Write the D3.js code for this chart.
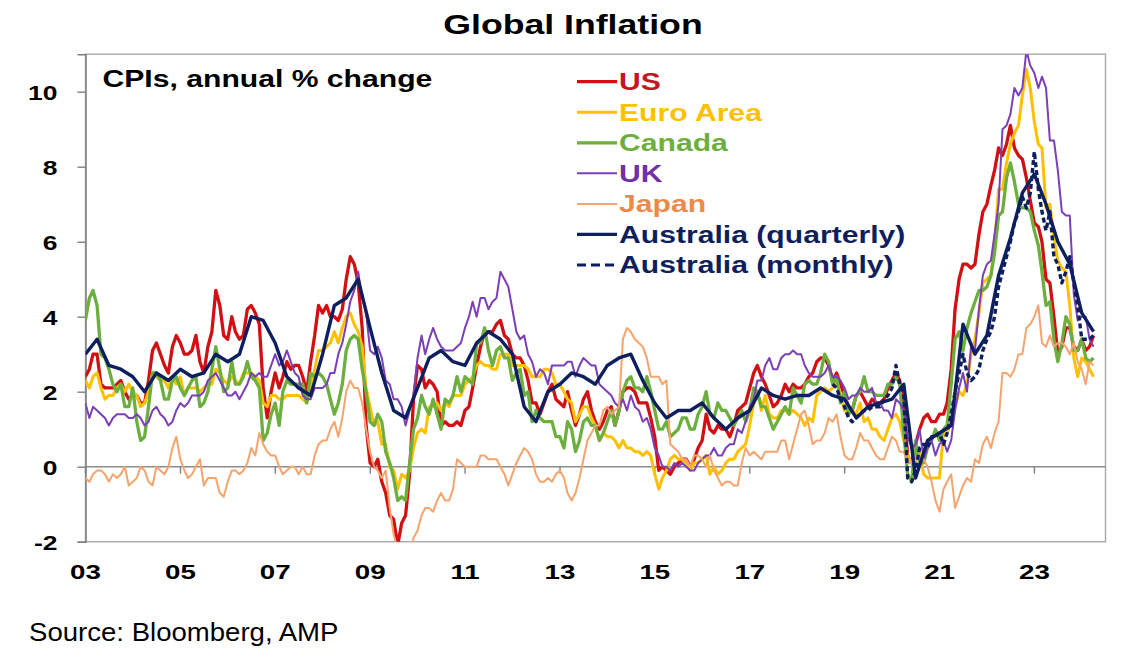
<!DOCTYPE html>
<html>
<head>
<meta charset="utf-8">
<script src="https://cdn.jsdelivr.net/npm/d3@7"></script>
<style>
  body { margin: 0; background: #fff; }
  text { font-family: "Liberation Sans", Arial, sans-serif; }
</style>
</head>
<body>
<svg id="chart" width="1143" height="671"></svg>
<script>

// monthly series run Dec 2002 .. Mar 2024 (annual % change)
var monthlyStart = [2002, 12];

var us = [2.4,
  2.6,3.0,3.0,2.2,2.1,2.1,2.1,2.2,2.3,2.0,1.8,1.9,
  1.9,1.7,1.7,2.3,3.1,3.3,3.0,2.7,2.5,3.2,3.5,3.3,
  3.0,3.0,3.1,3.5,2.8,2.5,3.2,3.6,4.7,4.3,3.5,3.4,
  4.0,3.6,3.4,3.5,4.2,4.3,4.1,3.8,2.1,1.3,2.0,2.5,
  2.1,2.4,2.8,2.6,2.7,2.7,2.4,2.0,2.8,3.5,4.3,4.1,
  4.3,4.0,4.0,3.9,4.2,5.0,5.6,5.4,4.9,3.7,1.1,0.1,
  0.0,0.2,-0.4,-0.7,-1.3,-1.4,-2.1,-1.5,-1.3,-0.2,1.8,2.7,
  2.6,2.1,2.3,2.2,2.0,1.1,1.2,1.1,1.1,1.2,1.1,1.5,
  1.6,2.1,2.7,3.2,3.6,3.6,3.6,3.8,3.9,3.5,3.4,3.0,
  2.9,2.9,2.7,2.3,1.7,1.7,1.4,1.7,2.0,2.2,1.8,1.7,
  1.6,2.0,1.5,1.1,1.4,1.8,2.0,1.5,1.2,1.0,1.2,1.5,
  1.6,1.1,1.5,2.0,2.1,2.1,2.0,1.7,1.7,1.7,1.3,0.8,
  -0.1,0.0,-0.1,-0.2,0.0,0.1,0.2,0.2,0.0,0.2,0.5,0.7,
  1.4,1.0,0.9,1.1,1.0,1.0,0.8,1.1,1.5,1.6,1.7,2.1,
  2.5,2.7,2.4,2.2,1.9,1.6,1.7,1.9,2.2,2.0,2.2,2.1,
  2.1,2.2,2.4,2.5,2.8,2.9,2.9,2.7,2.3,2.5,2.2,1.9,
  1.6,1.5,1.9,2.0,1.8,1.6,1.8,1.7,1.7,1.8,2.1,2.3,
  2.5,2.3,1.5,0.3,0.1,0.6,1.0,1.3,1.4,1.2,1.2,1.4,
  1.4,1.7,2.6,4.2,5.0,5.4,5.4,5.3,5.4,6.2,6.8,7.0,
  7.5,7.9,8.5,8.3,8.6,9.1,8.5,8.3,8.2,7.7,7.1,6.5,
  6.4,6.0,5.0,4.9,4.0,3.0,3.2,3.7,3.7,3.2,3.1,3.4,
  3.1,3.2,3.5];

var euroArea = [2.3,
  2.1,2.4,2.5,2.1,1.8,1.9,1.9,2.1,2.2,2.0,2.2,2.0,
  1.9,1.6,1.7,2.0,2.5,2.4,2.3,2.3,2.1,2.4,2.2,2.4,
  1.9,2.1,2.1,2.1,2.0,2.1,2.2,2.2,2.6,2.5,2.3,2.2,
  2.4,2.3,2.2,2.5,2.5,2.5,2.4,2.3,1.7,1.6,1.9,1.9,
  1.8,1.8,1.9,1.9,1.9,1.9,1.8,1.7,2.1,2.6,3.1,3.1,
  3.2,3.3,3.6,3.3,3.7,4.0,4.1,3.8,3.6,3.2,2.1,1.6,
  1.1,1.2,0.6,0.6,0.0,-0.1,-0.6,-0.2,-0.3,-0.1,0.5,0.9,
  1.0,0.9,1.6,1.6,1.7,1.5,1.7,1.6,1.9,1.9,1.9,2.2,
  2.3,2.4,2.7,2.8,2.7,2.7,2.6,2.6,3.0,3.0,3.0,2.7,
  2.7,2.7,2.7,2.6,2.4,2.4,2.4,2.6,2.6,2.5,2.2,2.2,
  2.0,1.8,1.7,1.2,1.4,1.6,1.6,1.3,1.1,0.7,0.9,0.8,
  0.8,0.7,0.5,0.7,0.5,0.5,0.4,0.4,0.3,0.4,0.3,-0.2,
  -0.6,-0.3,-0.1,0.2,0.3,0.2,0.2,0.1,-0.1,0.1,0.1,0.2,
  0.3,-0.2,0.0,-0.2,-0.1,0.1,0.2,0.2,0.4,0.5,0.6,1.1,
  1.7,2.0,1.5,1.9,1.4,1.3,1.3,1.5,1.5,1.4,1.5,1.4,
  1.3,1.1,1.3,1.2,1.9,2.0,2.1,2.0,2.1,2.3,1.9,1.5,
  1.4,1.5,1.4,1.7,1.2,1.3,1.0,1.0,0.8,0.7,1.0,1.3,
  1.4,1.2,0.7,0.3,0.1,0.3,0.4,-0.2,-0.3,-0.3,-0.3,-0.3,
  0.9,0.9,1.3,1.6,2.0,1.9,2.2,3.0,3.4,4.1,4.9,5.0,
  5.1,5.9,7.4,7.4,8.1,8.6,8.9,9.1,9.9,10.6,10.1,9.2,
  8.6,8.5,6.9,7.0,6.1,5.5,5.3,5.2,4.3,2.9,2.4,2.9,
  2.8,2.6,2.4];

var canada = [3.9,
  4.5,4.7,4.3,3.0,2.9,2.6,2.2,2.0,2.2,1.6,1.6,2.1,
  1.2,0.7,0.8,1.6,2.5,2.5,2.3,1.8,1.8,2.3,2.4,2.1,
  1.9,2.1,2.3,2.4,1.6,1.7,2.0,2.6,3.2,2.6,2.0,2.1,
  2.8,2.2,2.2,2.4,2.8,2.4,2.3,2.1,0.7,0.9,1.4,1.7,
  1.1,2.0,2.3,2.2,2.2,2.2,2.2,1.7,2.5,2.4,2.5,2.4,
  2.2,1.8,1.4,1.7,2.2,3.1,3.4,3.5,3.4,2.6,2.0,1.2,
  1.1,1.4,1.2,0.4,0.1,-0.3,-0.9,-0.8,-0.9,0.1,1.0,1.3,
  1.9,1.6,1.4,1.8,1.4,1.0,1.8,1.7,1.9,2.4,2.0,2.4,
  2.3,2.2,3.3,3.3,3.7,3.1,2.7,3.1,3.2,2.9,2.9,2.3,
  2.5,2.6,1.9,2.0,1.2,1.5,1.3,1.2,1.2,1.2,0.8,0.8,
  0.5,1.2,1.0,0.4,0.7,1.2,1.3,1.1,1.1,0.7,0.9,1.2,
  1.5,1.1,1.5,2.0,2.3,2.4,2.1,2.1,2.0,2.4,2.0,1.5,
  1.0,1.0,1.2,0.8,0.9,1.0,1.3,1.3,1.0,1.0,1.4,1.6,
  2.0,1.4,1.3,1.7,1.5,1.5,1.3,1.1,1.3,1.5,1.2,1.5,
  2.1,2.0,1.6,1.6,1.3,1.0,1.2,1.4,1.6,1.4,2.1,1.9,
  1.7,2.2,2.3,2.2,2.2,2.5,3.0,2.8,2.2,2.4,1.7,2.0,
  1.4,1.5,1.9,2.0,2.4,2.0,2.0,1.9,1.9,1.9,2.2,2.2,
  2.4,2.2,0.9,-0.2,-0.4,0.7,0.1,0.1,0.5,0.7,1.0,0.7,
  1.0,1.1,2.2,3.4,3.6,3.1,3.7,4.1,4.4,4.7,4.7,4.8,
  5.1,5.7,6.7,6.8,7.7,8.1,7.6,7.0,6.9,6.9,6.8,6.3,
  5.9,5.2,4.3,4.4,3.4,2.8,3.3,4.0,3.8,3.1,3.1,3.4,
  2.9,2.8,2.9];

var uk = [1.7,
  1.3,1.6,1.5,1.4,1.3,1.1,1.3,1.4,1.4,1.4,1.3,1.3,
  1.4,1.3,1.1,1.2,1.5,1.6,1.4,1.3,1.1,1.2,1.5,1.7,
  1.6,1.7,1.9,1.9,1.9,2.0,2.3,2.4,2.5,2.3,2.1,1.9,
  1.9,2.0,1.8,2.0,2.2,2.5,2.4,2.5,2.4,2.4,2.7,3.0,
  2.7,2.8,3.1,2.8,2.5,2.4,1.9,1.8,1.8,2.1,2.1,2.1,
  2.2,2.5,2.5,3.0,3.3,3.8,4.4,4.7,5.2,4.5,4.1,3.1,
  3.0,3.2,2.9,2.3,2.2,1.8,1.8,1.6,1.1,1.5,1.9,2.9,
  3.5,3.0,3.4,3.7,3.4,3.2,3.1,3.1,3.1,3.2,3.3,3.7,
  4.0,4.4,4.0,4.5,4.5,4.2,4.4,4.5,5.2,5.0,4.8,4.2,
  3.6,3.4,3.5,3.0,2.8,2.4,2.6,2.5,2.2,2.7,2.7,2.7,
  2.7,2.8,2.8,2.4,2.7,2.9,2.8,2.7,2.7,2.2,2.1,2.0,
  1.9,1.7,1.6,1.8,1.5,1.9,1.6,1.5,1.2,1.3,1.0,0.5,
  0.3,0.0,0.0,-0.1,0.1,0.0,0.1,0.0,-0.1,-0.1,0.1,0.2,
  0.3,0.3,0.5,0.3,0.3,0.5,0.6,0.6,1.0,0.9,1.2,1.6,
  1.8,2.3,2.3,2.7,2.9,2.6,2.6,2.9,3.0,3.0,3.1,3.0,
  3.0,2.7,2.5,2.4,2.4,2.4,2.5,2.7,2.4,2.4,2.3,2.1,
  1.8,1.9,1.9,2.1,2.0,2.0,2.1,1.7,1.7,1.5,1.5,1.3,
  1.8,1.7,1.5,0.8,0.5,0.6,1.0,0.2,0.5,0.7,0.3,0.6,
  0.7,0.4,0.7,1.5,2.1,2.5,2.0,3.2,3.1,4.2,5.1,5.4,
  5.5,6.2,7.0,9.0,9.1,9.4,10.1,9.9,10.1,11.1,10.7,10.5,
  10.1,10.4,10.1,8.7,8.7,7.9,6.8,6.7,6.7,4.6,3.9,4.0,
  4.0,3.4,3.2];

var japan = [-0.3,
  -0.4,-0.2,-0.1,-0.1,-0.2,-0.4,-0.2,-0.3,-0.2,0.0,-0.5,-0.4,
  -0.3,0.0,-0.1,-0.4,-0.5,0.0,-0.1,-0.2,0.0,0.5,0.8,0.2,
  -0.1,-0.3,-0.2,0.0,0.2,-0.5,-0.3,-0.3,-0.3,-0.7,-0.8,-0.4,
  -0.1,-0.1,-0.2,-0.1,0.1,0.5,0.3,0.9,0.6,0.4,0.3,0.3,
  0.0,-0.2,-0.1,0.0,0.0,-0.2,0.0,-0.2,-0.2,0.3,0.6,0.7,
  0.7,1.0,1.2,0.8,1.3,2.0,2.3,2.1,2.1,1.7,1.0,0.4,
  0.0,-0.1,-0.3,-0.1,-1.1,-1.8,-2.2,-2.2,-2.2,-2.5,-1.9,-1.7,
  -1.3,-1.1,-1.1,-1.2,-0.9,-0.7,-0.9,-0.9,-0.6,0.2,0.1,0.0,
  0.0,0.0,0.0,0.3,0.3,0.2,0.2,0.2,0.0,-0.2,-0.5,-0.2,
  0.1,0.3,0.5,0.4,0.2,-0.2,-0.4,-0.4,-0.3,-0.4,-0.2,-0.1,
  -0.3,-0.7,-0.9,-0.7,-0.3,0.2,0.7,0.9,1.1,1.1,1.5,1.6,
  1.4,1.5,1.6,3.4,3.7,3.6,3.4,3.3,3.2,2.9,2.4,2.4,
  2.4,2.2,2.3,0.6,0.5,0.4,0.2,0.2,0.0,0.3,0.3,0.2,
  0.0,0.3,-0.1,-0.3,-0.5,-0.4,-0.4,-0.5,-0.5,0.1,0.5,0.3,
  0.4,0.3,0.2,0.4,0.4,0.4,0.4,0.7,0.7,0.2,0.6,1.0,
  1.4,1.5,1.1,0.6,0.7,0.7,0.9,1.3,1.2,1.4,0.8,0.3,
  0.2,0.2,0.5,0.9,0.7,0.7,0.5,0.3,0.2,0.2,0.5,0.8,
  0.7,0.4,0.4,0.1,0.1,0.1,0.3,0.2,0.0,-0.4,-0.9,-1.2,
  -0.6,-0.4,-0.2,-1.1,-0.8,-0.5,-0.3,-0.4,0.2,0.1,0.6,0.8,
  0.5,0.9,1.2,2.5,2.5,2.4,2.6,3.0,3.0,3.7,3.8,4.0,
  4.3,3.3,3.2,3.5,3.2,3.3,3.3,3.2,3.0,3.3,2.8,2.6,
  2.2,2.8,2.7];

// quarterly, Dec 2002 .. Mar 2024
var quarterlyStart = [2002, 12];
var ausQuarterly = [3.0,
  3.4,2.7,2.6,2.4,  2.0,2.5,2.3,2.6,  2.4,2.5,3.0,2.8,  3.0,4.0,3.9,3.3,
  2.4,2.1,1.9,3.0,  4.3,4.5,5.0,3.7,  2.5,1.5,1.3,2.1,  2.9,3.1,2.8,2.7,
  3.3,3.6,3.4,3.0,  1.6,1.2,2.0,2.2,  2.5,2.4,2.2,2.7,  2.9,3.0,2.3,1.7,
  1.3,1.5,1.5,1.7,  1.3,1.0,1.3,1.5,  2.1,1.9,1.8,1.9,  1.9,2.1,1.9,1.8,
  1.3,1.6,1.7,1.8,  2.2,-0.3,0.7,0.9, 1.1,3.8,3.0,3.5,  5.1,6.1,7.3,7.8,
  7.0,6.0,5.4,4.1,  3.6];

// monthly indicator, Sep 2018 .. Mar 2024
var ausMonthlyStart = [2018, 9];
var ausMonthly = [2.2,2.1,1.8,1.6,
  1.3,1.2,1.3,1.4,1.5,1.5,1.6,1.6,1.6,1.8,1.9,2.1,
  2.7,2.2,1.9,-0.3,-0.4,-0.1,0.5,0.6,0.5,0.8,0.8,0.9,
  0.6,0.9,1.4,2.0,2.5,3.0,2.5,2.3,2.4,2.6,3.1,3.4,
  3.6,4.0,4.8,5.2,5.6,6.0,6.5,6.8,7.2,6.9,7.3,8.4,
  7.4,6.8,6.3,6.8,5.6,5.4,4.9,5.2,5.6,4.9,4.3,3.4,
  3.4,3.4,3.5];

var seriesNames = ["US", "Euro Area", "Canada", "UK", "Japan", "Australia (quarterly)", "Australia (monthly)"];
var seriesColors = ["#D20F12", "#FFC000", "#6DAF3F", "#7B3FB8", "#F5A46E", "#0D1F5E", "#0D1F5E"];
var labelColors = ["#C8141E", "#FFC000", "#6DAF3F", "#7230A8", "#EE8A48", "#0F1F5C", "#0F1F5C"];

var yTicks = [-2, 0, 2, 4, 6, 8, 10];
var xTickYears = [2003, 2005, 2007, 2009, 2011, 2013, 2015, 2017, 2019, 2021, 2023];
var xTickLabels = ["03", "05", "07", "09", "11", "13", "15", "17", "19", "21", "23"];

var titleText = "Global Inflation";
var subtitleText = "CPIs, annual % change";
var sourceText = "Source: Bloomberg, AMP";

// ---------------------------------------------------------------

var svg = d3.select("#chart");

var plot = { left: 85.5, right: 1105.5, top: 54.2, bottom: 541.7 };

var x = d3.scaleTime()
    .domain([new Date(2003, 0, 1), new Date(2024, 6, 1)])
    .range([plot.left, plot.right]);

var y = d3.scaleLinear()
    .domain([-2, 11])
    .range([plot.bottom, plot.top]);

// values are month-end observations
function toPoints(values, start, step) {
  return values.map(function(v, i) {
    return { date: new Date(start[0], start[1] + i * step, 0), value: v };
  });
}

var series = [
  { values: toPoints(us, monthlyStart, 1), width: 3.3 },
  { values: toPoints(euroArea, monthlyStart, 1), width: 3 },
  { values: toPoints(canada, monthlyStart, 1), width: 3.3 },
  { values: toPoints(uk, monthlyStart, 1), width: 2 },
  { values: toPoints(japan, monthlyStart, 1), width: 2 },
  { values: toPoints(ausQuarterly, quarterlyStart, 3), width: 3.4 },
  { values: toPoints(ausMonthly, ausMonthlyStart, 1), width: 3.4, dash: "5,3" }
];
series.forEach(function(s, i) { s.name = seriesNames[i]; s.color = seriesColors[i]; s.labelColor = labelColors[i]; });

// text in the source picture is drawn wider than its font, stretch to suit
function stretch(sel, k) {
  sel.each(function() {
    var w = this.getComputedTextLength();
    d3.select(this).attr("textLength", w * k).attr("lengthAdjust", "spacingAndGlyphs");
  });
}

svg.append("defs").append("clipPath")
    .attr("id", "plot-clip")
  .append("rect")
    .attr("x", plot.left)
    .attr("y", plot.top)
    .attr("width", plot.right - plot.left)
    .attr("height", plot.bottom - plot.top);

// plot area frame
svg.append("rect")
    .attr("x", plot.left)
    .attr("y", plot.top)
    .attr("width", plot.right - plot.left)
    .attr("height", plot.bottom - plot.top)
    .attr("fill", "none")
    .attr("stroke", "#A8A8A8")
    .attr("stroke-width", 1.4);

// zero line with year ticks
svg.append("line")
    .attr("x1", plot.left).attr("x2", plot.right)
    .attr("y1", y(0)).attr("y2", y(0))
    .attr("stroke", "#8C8C8C")
    .attr("stroke-width", 1.6);

svg.append("g").selectAll("line")
  .data(xTickYears)
  .join("line")
    .attr("x1", function(d) { return x(new Date(d, 0, 1)); })
    .attr("x2", function(d) { return x(new Date(d, 0, 1)); })
    .attr("y1", y(0))
    .attr("y2", y(0) + 7)
    .attr("stroke", "#7F7F7F")
    .attr("stroke-width", 1.4);

// y axis
var yAxis = svg.append("g")
    .attr("transform", "translate(" + plot.left + ",0)")
    .call(d3.axisLeft(y).tickValues(yTicks).tickSize(8).tickPadding(20).tickFormat(d3.format("d")));

yAxis.select(".domain").attr("stroke", "#7F7F7F").attr("stroke-width", 1.5);
yAxis.selectAll(".tick line").attr("stroke", "#7F7F7F").attr("stroke-width", 1.4);
yAxis.selectAll(".tick text")
    .attr("fill", "#000")
    .attr("font-family", "'Liberation Sans', Arial, sans-serif")
    .attr("font-size", 21)
    .attr("font-weight", "bold")
    .attr("dy", "0.36em")
    .text(function(d) { return d < 0 ? "-" + Math.abs(d) : d; })
    .call(stretch, 1.26);

// x labels sit below the plot area
svg.append("g").selectAll("text")
  .data(xTickYears)
  .join("text")
    .attr("x", function(d) { return x(new Date(d, 0, 1)); })
    .attr("y", 578.5)
    .attr("text-anchor", "middle")
    .attr("font-size", 21)
    .attr("font-weight", "bold")
    .attr("fill", "#000")
    .text(function(d, i) { return xTickLabels[i]; })
    .call(stretch, 1.32);

// series
var line = d3.line()
    .x(function(d) { return x(d.date); })
    .y(function(d) { return y(d.value); });

svg.append("g")
    .attr("clip-path", "url(#plot-clip)")
  .selectAll("path")
  .data(series)
  .join("path")
    .attr("d", function(d) { return line(d.values); })
    .attr("fill", "none")
    .attr("stroke", function(d) { return d.color; })
    .attr("stroke-width", function(d) { return d.width; })
    .attr("stroke-dasharray", function(d) { return d.dash || null; })
    .attr("stroke-linejoin", "round");

// title and subtitle
svg.append("text")
    .attr("x", 573)
    .attr("y", 34)
    .attr("text-anchor", "middle")
    .attr("font-size", 27)
    .attr("font-weight", "bold")
    .attr("fill", "#000")
    .text(titleText)
    .call(stretch, 1.32);

svg.append("text")
    .attr("x", 102.5)
    .attr("y", 87)
    .attr("font-size", 23)
    .attr("font-weight", "bold")
    .attr("fill", "#000")
    .text(subtitleText)
    .call(stretch, 1.31);

// legend
var legend = svg.append("g").selectAll("g")
  .data(series)
  .join("g")
    .attr("transform", function(d, i) { return "translate(577," + (90 + i * 30.55) + ")"; });

legend.append("line")
    .attr("x1", 0).attr("x2", 40)
    .attr("y1", -8.3).attr("y2", -8.3)
    .attr("stroke", function(d) { return d.color; })
    .attr("stroke-width", function(d) { return Math.min(d.width, 3.2); })
    .attr("stroke-dasharray", function(d) { return d.dash ? "9,5" : null; });

legend.append("text")
    .attr("x", 42)
    .attr("y", 0)
    .attr("font-size", 23)
    .attr("font-weight", "bold")
    .attr("fill", function(d) { return d.labelColor; })
    .text(function(d) { return d.name; })
    .call(stretch, 1.31);

// source note
svg.append("text")
    .attr("x", 29)
    .attr("y", 641)
    .attr("font-size", 26)
    .attr("fill", "#000")
    .text(sourceText)
    .call(stretch, 1.06);

</script>
</body>
</html>
